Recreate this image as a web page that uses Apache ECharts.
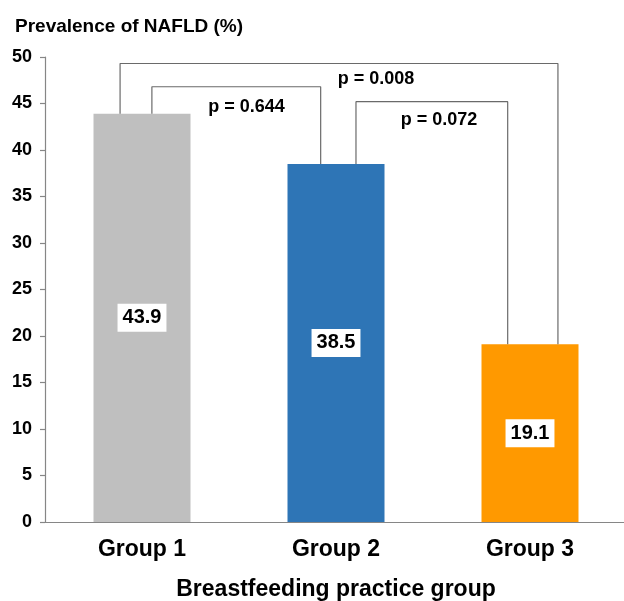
<!DOCTYPE html>
<html><head><meta charset="utf-8">
<script src="https://cdn.jsdelivr.net/npm/echarts@6/dist/echarts.min.js"></script>
<style>html,body{margin:0;padding:0;background:#fff}#c{width:624px;height:601px}</style>
</head><body><div id="c"></div>
<script>
const categories = ['Group 1', 'Group 2', 'Group 3'];
const prevalence = [43.9, 38.5, 19.1];
const barColors = ['#BFBFBF', '#2E75B6', '#FF9900'];
const yTicks = [0, 5, 10, 15, 20, 25, 30, 35, 40, 45, 50];
const comparePairs = [[0, 2], [0, 1], [1, 2]];
const pValues = ['p = 0.008', 'p = 0.644', 'p = 0.072'];
const bracketLevels = [49.3, 46.8, 45.2];

const FONT = "'Liberation Sans', Arial, sans-serif";
// leg offsets (in category units) relative to bar centres, for each bracket
const legOffsets = [[-0.113, 0.144], [0.051, -0.079], [0.103, -0.115]];
// label placement (category units, value units)
const labelPos = [[1.706, 47.6], [1.039, 44.6], [2.031, 43.2]];

const series = [{
  type: 'bar',
  barWidth: 97,
  data: prevalence.map((v, i) => ({ value: v, itemStyle: { color: barColors[i] } })),
  label: {
    show: true, position: 'inside', color: '#000', fontWeight: 'bold', fontSize: 20,
    fontFamily: FONT, backgroundColor: '#fff', padding: [5, 5, 3, 5],
    formatter: p => p.value.toFixed(1)
  }
}];

comparePairs.forEach((pair, k) => {
  const [a, b] = pair;
  const xa = a + 0.5 + legOffsets[k][0];
  const xb = b + 0.5 + legOffsets[k][1];
  series.push({
    type: 'line', xAxisIndex: 1, yAxisIndex: 0, symbol: 'none', silent: true,
    lineStyle: { color: '#6a6a6a', width: 1.2 },
    data: [[xa, prevalence[a]], [xa, bracketLevels[k]], [xb, bracketLevels[k]], [xb, prevalence[b]]]
  });
});

series.push({
  type: 'scatter', xAxisIndex: 1, yAxisIndex: 0, symbolSize: 1, silent: true,
  itemStyle: { opacity: 1, color: 'rgba(0,0,0,0)' },
  data: labelPos.map((p, k) => ({ value: p, name: pValues[k] })),
  label: {
    show: true, position: 'inside', formatter: p => p.name, color: '#000', opacity: 1,
    fontWeight: 'bold', fontSize: 18, fontFamily: FONT
  }
});

const chart = echarts.init(document.getElementById('c'), null, { renderer: 'canvas' });
chart.setOption({
  animation: false,
  backgroundColor: '#fff',
  title: {
    text: 'Prevalence of NAFLD (%)', left: 10, top: 12,
    textStyle: { fontFamily: FONT, fontWeight: 'bold', fontSize: 19, color: '#000' }
  },
  grid: { left: 45, top: 57, width: 582, height: 465, containLabel: false, outerBoundsMode: 'none' },
  xAxis: [{
    type: 'category', data: categories,
    axisLine: { lineStyle: { color: '#868686', width: 1.2 } },
    axisTick: { show: false },
    axisLabel: { color: '#000', fontWeight: 'bold', fontSize: 23, fontFamily: FONT, margin: 16 },
    name: 'Breastfeeding practice group', nameLocation: 'middle', nameGap: 56,
    nameTextStyle: { color: '#000', fontWeight: 'bold', fontSize: 23, fontFamily: FONT }
  }, {
    type: 'value', min: 0, max: 3, show: false
  }],
  yAxis: {
    type: 'value', min: yTicks[0], max: yTicks[yTicks.length - 1], interval: yTicks[1] - yTicks[0],
    axisLine: { show: true, lineStyle: { color: '#868686', width: 1.2 } },
    axisTick: { show: true, length: 5, lineStyle: { color: '#868686', width: 1.2 } },
    splitLine: { show: false },
    axisLabel: { color: '#000', fontWeight: 'bold', fontSize: 18, fontFamily: FONT, margin: 13 }
  },
  series
});
</script></body></html>
